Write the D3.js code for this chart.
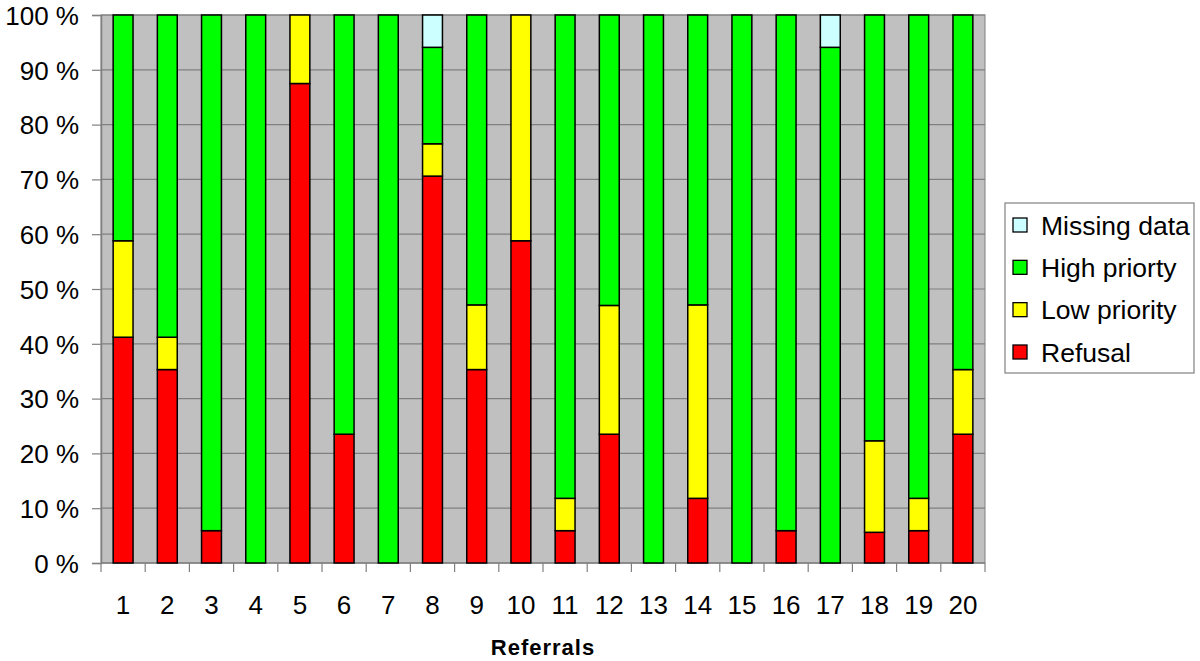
<!DOCTYPE html>
<html>
<head>
<meta charset="utf-8">
<script src="https://cdn.jsdelivr.net/npm/d3@7"></script>
<style>
  html, body { margin: 0; padding: 0; background: #fff; }
  svg text { font-family: "Liberation Sans", Arial, sans-serif; fill: #000; }
</style>
</head>
<body>
<svg id="chart" width="1200" height="661"></svg>
<script>
const categories = ["1","2","3","4","5","6","7","8","9","10","11","12","13","14","15","16","17","18","19","20"];
const refusal      = [41.2, 35.3, 5.9, 0, 87.5, 23.5, 0, 70.6, 35.3, 58.8, 5.9, 23.5, 0, 11.8, 0, 5.9, 0, 5.6, 5.9, 23.5];
const lowPriority  = [17.6, 5.9, 0, 0, 12.5, 0, 0, 5.9, 11.8, 41.2, 5.9, 23.5, 0, 35.3, 0, 0, 0, 16.7, 5.9, 11.8];
const highPriority = [41.2, 58.8, 94.1, 100, 0, 76.5, 100, 17.6, 52.9, 0, 88.2, 53.0, 100, 52.9, 100, 94.1, 94.1, 77.7, 88.2, 64.7];
const missingData  = [0, 0, 0, 0, 0, 0, 0, 5.9, 0, 0, 0, 0, 0, 0, 0, 0, 5.9, 0, 0, 0];
const seriesNames  = ["Refusal", "Low priority", "High priorty", "Missing data"];
const seriesColors = ["#ff0000", "#ffff00", "#00ff00", "#ccffff"];
const yTicks = [0, 10, 20, 30, 40, 50, 60, 70, 80, 90, 100];

const svg = d3.select("#chart");
const m = {left: 101, top: 15, right: 985, bottom: 563};

const x = d3.scaleBand().domain(categories).range([m.left, m.right]).paddingInner(0.55).paddingOuter(0.275);
const xOuter = d3.scaleBand().domain(categories).range([m.left, m.right]);
const y = d3.scaleLinear().domain([0, 100]).range([m.bottom, m.top]);

// plot background
svg.append("rect").attr("x", m.left).attr("y", m.top)
  .attr("width", m.right - m.left).attr("height", m.bottom - m.top)
  .attr("fill", "#c0c0c0").attr("stroke", "#808080").attr("stroke-width", 1);

// gridlines
svg.append("g").selectAll("line").data(yTicks.filter(d => d > 0)).join("line")
  .attr("x1", m.left).attr("x2", m.right)
  .attr("y1", d => y(d)).attr("y2", d => y(d))
  .attr("stroke", "#808080").attr("stroke-width", 1.2);

// y axis
const yAxis = d3.axisLeft(y).tickValues(yTicks).tickSize(9).tickPadding(13).tickFormat(d => d + " %");
const gy = svg.append("g").attr("transform", `translate(${m.left},0)`).call(yAxis);
gy.select(".domain").attr("stroke", "#808080").attr("stroke-width", 1.5);
gy.selectAll(".tick line").attr("stroke", "#808080").attr("stroke-width", 1.2);
gy.selectAll("text").attr("font-size", 26).attr("dy", "0.36em")
  .style("font-family", "'Liberation Sans', Arial, sans-serif").attr("fill", "#000");

// x axis with ticks between categories
const boundaries = categories.map(c => xOuter(c)).concat([m.right]);
const gx = svg.append("g");
gx.append("line").attr("x1", m.left).attr("x2", m.right).attr("y1", m.bottom).attr("y2", m.bottom)
  .attr("stroke", "#808080").attr("stroke-width", 1.5);
gx.selectAll("line.tk").data(boundaries).join("line").attr("class", "tk")
  .attr("x1", d => d).attr("x2", d => d).attr("y1", m.bottom).attr("y2", m.bottom + 9)
  .attr("stroke", "#808080").attr("stroke-width", 1.2);
gx.selectAll("text").data(categories).join("text")
  .attr("x", d => xOuter(d) + xOuter.bandwidth() / 2).attr("y", 614)
  .attr("text-anchor", "middle").attr("font-size", 26).text(d => d);

// stacked bars
const rows = categories.map((c, i) => ({cat: c, "Refusal": refusal[i], "Low priority": lowPriority[i], "High priorty": highPriority[i], "Missing data": missingData[i]}));
const stack = d3.stack().keys(seriesNames)(rows);
const gb = svg.append("g");
stack.forEach((layer, li) => {
  gb.append("g").selectAll("rect").data(layer.filter(d => d[1] - d[0] > 0)).join("rect")
    .attr("x", d => x(d.data.cat))
    .attr("width", x.bandwidth())
    .attr("y", d => y(d[1]))
    .attr("height", d => y(d[0]) - y(d[1]))
    .attr("fill", seriesColors[li])
    .attr("stroke", "#000").attr("stroke-width", 1.5);
});

// x axis title
svg.append("text").attr("x", (m.left + m.right) / 2).attr("y", 655)
  .attr("text-anchor", "middle").attr("font-size", 22).attr("font-weight", "bold")
  .attr("letter-spacing", 1).text("Referrals");

// legend
const lg = svg.append("g");
lg.append("rect").attr("x", 1005).attr("y", 203).attr("width", 189).attr("height", 170)
  .attr("fill", "#fff").attr("stroke", "#808080").attr("stroke-width", 1.2);
const legendOrder = [3, 2, 1, 0];
const ly = d3.scalePoint().domain(legendOrder).range([225, 352]);
legendOrder.forEach(i => {
  lg.append("rect").attr("x", 1013).attr("y", ly(i) - 7).attr("width", 14).attr("height", 14)
    .attr("fill", seriesColors[i]).attr("stroke", "#000").attr("stroke-width", 1.3);
  lg.append("text").attr("x", 1041).attr("y", ly(i)).attr("dy", "0.36em")
    .attr("font-size", 26.5).text(seriesNames[i]);
});
</script>
</body>
</html>
